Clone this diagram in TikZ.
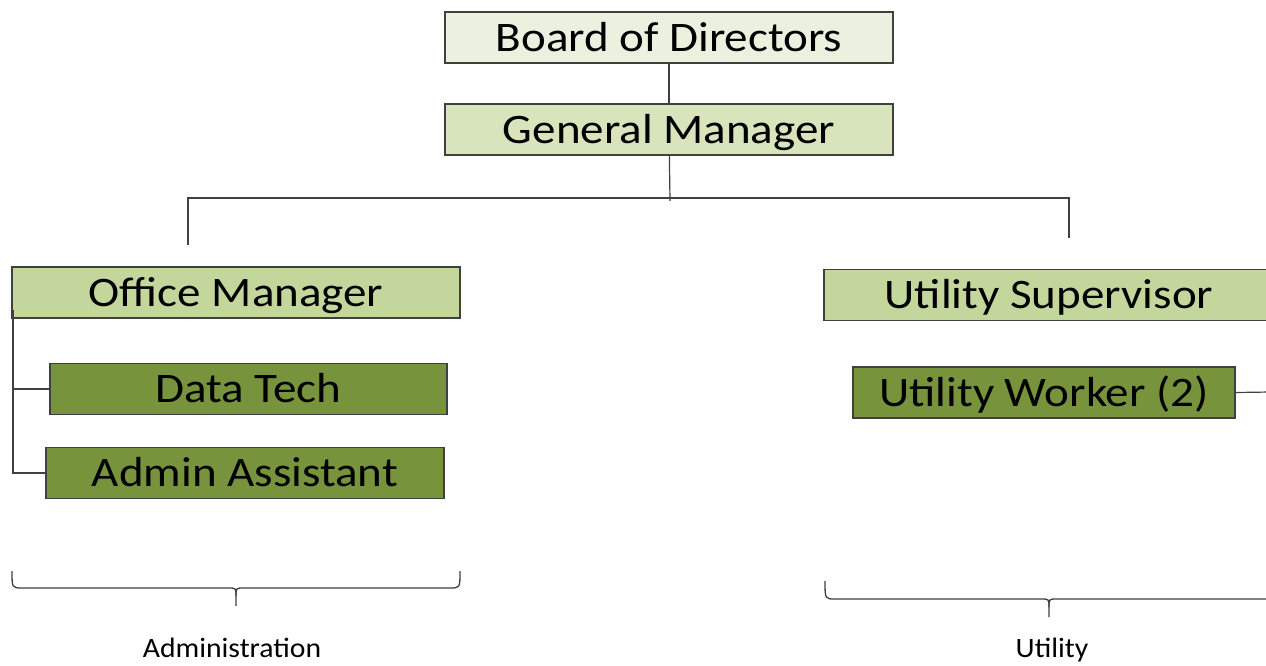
\documentclass[tikz,border=0pt]{standalone}
\usepackage{fontspec}
\setmainfont{Carlito}
\newfontfamily\boxfont[FakeStretch=1.12]{Carlito}
\newfontfamily\lblfont[FakeStretch=1.06]{Carlito}
\definecolor{cBoard}{HTML}{EBF1DE}
\definecolor{cGM}{HTML}{D7E4BC}
\definecolor{cMid}{HTML}{C3D69B}
\definecolor{cDark}{HTML}{77933C}
\definecolor{cLine}{HTML}{404040}
\begin{document}
\begin{tikzpicture}[x=1pt,y=-1pt,
  box/.style={draw=cLine, line width=1.2pt, inner sep=0pt, minimum height=51pt, font=\boxfont\fontsize{42}{44}\selectfont, text=black, text height=27pt, text depth=0pt},
  conn/.style={draw=cLine, line width=1.2pt},
  brace/.style={draw=cLine, line width=1.3pt},
  lbl/.style={font=\lblfont\fontsize{28}{30}\selectfont, text=black, inner sep=0pt, anchor=base}]
\clip (0,0) rectangle (1266,665);
\fill[white] (0,0) rectangle (1266,665);
\node[box, fill=cBoard, minimum width=448pt] (bod) at (669,37.5) {Board of Directors};
\node[box, fill=cGM, minimum width=448pt] (gm) at (669,129.5) {General Manager};
\node[box, fill=cMid, minimum width=448pt] (om) at (236,292.5) {Office Manager};
\node[box, fill=cMid, minimum width=450pt] (us) at (1049,295) {Utility Supervisor};
\node[box, fill=cDark, minimum width=397pt] (dt) at (248.5,389) {Data Tech};
\node[box, fill=cDark, minimum width=398pt] (aa) at (245,473) {Admin Assistant};
\node[box, fill=cDark, minimum width=382pt] (uw) at (1044,392.5) {Utility Worker (2)};
\coordinate (bus) at (670,201);
\coordinate (busL) at (188,198);
\coordinate (busR) at (1069,198);
\coordinate (dropL) at (188,245);
\coordinate (dropR) at (1069,238);
\coordinate (omL) at (13,310);
\coordinate (uwR) at (1270,392);
\draw[conn] (bod) -- (gm);
\draw[conn] (gm) -- (bus);
\draw[conn] (dropL) -- (busL) -- (busR) -- (dropR);
\draw[conn, line width=2.2pt] (omL) |- (dt.west);
\draw[conn] (omL) |- (aa.west);
\draw[conn] (uw.east) -- (uwR);
% group labels and braces
\node[lbl] (adm) at (232,657) {Administration};
\node[lbl] (utl) at (1052,657) {Utility};
\draw[brace] (12,571) .. controls (12,588) .. (22,588) -- (228,588) .. controls (236,588) .. (236,596) -- (236,606);
\draw[brace] (460,571) .. controls (460,588) .. (450,588) -- (244,588) .. controls (236,588) .. (236,596);
\draw[brace] (825,581) .. controls (825,599) .. (835,599) -- (1041,599) .. controls (1049,599) .. (1049,607) -- (1049,617);
\draw[brace] (1275,581) .. controls (1275,599) .. (1265,599) -- (1057,599) .. controls (1049,599) .. (1049,607);
\end{tikzpicture}
\end{document}
